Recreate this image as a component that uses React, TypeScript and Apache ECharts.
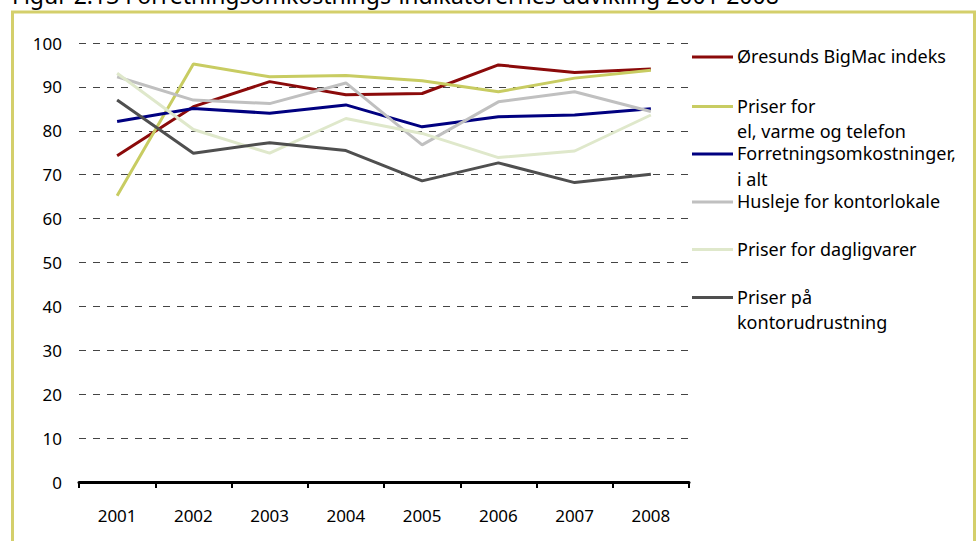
import React, { useEffect, useRef } from "react";
import * as echarts from "echarts";

const years = ["2001", "2002", "2003", "2004", "2005", "2006", "2007", "2008"];
const seriesNames = [
  "Øresunds BigMac indeks",
  "Priser for\nel, varme og telefon",
  "Forretningsomkostninger,\ni alt",
  "Husleje for kontorlokale",
  "Priser for dagligvarer",
  "Priser på\nkontorudrustning",
];
const bigMac = [74.3, 85.5, 91.2, 88.2, 88.5, 95.0, 93.3, 94.1];
const elVarme = [65.2, 95.2, 92.3, 92.6, 91.4, 88.9, 92.0, 93.8];
const forretning = [82.1, 85.1, 84.0, 85.9, 80.9, 83.2, 83.6, 85.0];
const husleje = [92.3, 87.0, 86.2, 90.9, 76.8, 86.6, 88.9, 84.4];
const dagligvarer = [93.1, 80.3, 74.9, 82.8, 79.4, 73.9, 75.4, 83.6];
const kontor = [87.0, 74.9, 77.3, 75.5, 68.6, 72.7, 68.2, 70.1];
const yTicks = [0, 10, 20, 30, 40, 50, 60, 70, 80, 90, 100];
const titleText = "Figur 2.13 Forretningsomkostnings-indikatorernes udvikling 2001-2008";

const seriesData = [bigMac, elVarme, forretning, husleje, dagligvarer, kontor];
const colors = ["#8b0a0a", "#c8cc62", "#000080", "#c0c0c0", "#dfe8cb", "#4f4f4f"];
const legendY = [57, 106.5, 154, 202, 249.5, 297.5];

const FONT = "'Noto Sans', 'DejaVu Sans', sans-serif";

export default function App() {
  const ref = useRef<HTMLDivElement>(null);
  useEffect(() => {
    if (!ref.current) return;
    const chart = echarts.init(ref.current, undefined, { renderer: "svg" });
    const legendGraphics: any[] = [];
    seriesNames.forEach((name, i) => {
      const y = legendY[i];
      legendGraphics.push({
        type: "line",
        shape: { x1: 692, y1: y, x2: 733, y2: y },
        style: { stroke: colors[i], lineWidth: 3 },
      });
      name.split("\n").forEach((ln, j) => {
        legendGraphics.push({
          type: "text",
          x: 737,
          y: y + j * 25.5 - 1,
          style: {
            text: ln,
            font: `18px ${FONT}`,
            fill: "#000",
            verticalAlign: "middle",
            align: "left",
          },
        });
      });
    });
    chart.setOption({
      animation: false,
      backgroundColor: "#fff",
      grid: { left: 79, right: 289, top: 43, bottom: 59, containLabel: false },
      xAxis: {
        type: "category",
        data: years,
        boundaryGap: true,
        axisLine: { show: true, lineStyle: { color: "#000", width: 3 } },
        axisTick: { show: true, interval: 0, length: 6, lineStyle: { color: "#000", width: 2 } },
        axisLabel: { interval: 0, margin: 25, color: "#000", fontSize: 17, fontFamily: FONT },
        splitLine: { show: false },
      },
      yAxis: {
        type: "value",
        min: yTicks[0],
        max: yTicks[yTicks.length - 1],
        interval: yTicks[1] - yTicks[0],
        axisLine: { show: false },
        axisTick: { show: false },
        axisLabel: { margin: 17, color: "#000", fontSize: 17, fontFamily: FONT },
        splitLine: { show: true, lineStyle: { color: "#444", width: 1, type: [7, 7] } },
      },
      series: seriesData.map((d, i) => ({
        name: seriesNames[i],
        type: "line",
        data: d,
        symbol: "none",
        smooth: false,
        lineStyle: { color: colors[i], width: 3 },
        itemStyle: { color: colors[i] },
        z: 3 + i,
      })),
      graphic: [
        {
          type: "rect",
          shape: { x: 12.5, y: 12, width: 962, height: 600 },
          style: { fill: "none", stroke: "#d4cf6b", lineWidth: 3 },
          silent: true,
        },
        {
          type: "text",
          x: 12,
          y: -5,
          style: {
            text: titleText,
            font: `23px ${FONT}`,
            fill: "#000",
            verticalAlign: "middle",
            align: "left",
          },
        },
        ...legendGraphics,
      ],
    });
    return () => chart.dispose();
  }, []);
  return (
    <div
      ref={ref}
      style={{ position: "absolute", left: 0, top: 0, width: 978, height: 541 }}
    />
  );
}
